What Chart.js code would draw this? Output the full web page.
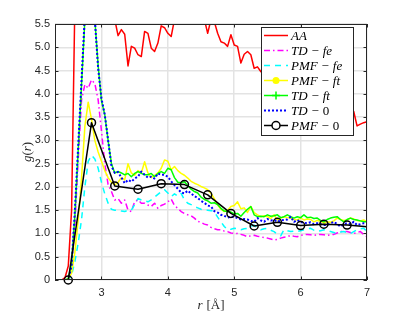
<!DOCTYPE html>
<html><head><meta charset="utf-8">
<script src="https://cdn.jsdelivr.net/npm/chart.js@4/dist/chart.umd.min.js"></script>
<style>html,body{margin:0;padding:0;background:#fff;}canvas{display:block;}</style>
</head><body>
<canvas id="c" width="407" height="318"></canvas>
<script>
// ---- data ----
const r = [2.30,2.35,2.40,2.45,2.50,2.55,2.60,2.65,2.70,2.75,
           2.80,2.85,2.90,2.95,3.00,3.05,3.10,3.15,3.20,3.25,
           3.30,3.35,3.40,3.45,3.50,3.55,3.60,3.65,3.70,3.75,
           3.80,3.85,3.90,3.95,4.00,4.05,4.10,4.15,4.20,4.25,
           4.30,4.35,4.40,4.45,4.50,4.55,4.60,4.65,4.70,4.75,
           4.80,4.85,4.90,4.95,5.00,5.05,5.10,5.15,5.20,5.25,
           5.30,5.35,5.40,5.45,5.50,5.55,5.60,5.65,5.70,5.75,
           5.80,5.85,5.90,5.95,6.00,6.05,6.10,6.15,6.20,6.25,
           6.30,6.35,6.40,6.45,6.50,6.55,6.60,6.65,6.70,6.75,
           6.80,6.85,6.90,6.95,7.00];
const AA = [0,0,0,0.05,0.3,1.5,6.0,9.5,11,10.5,
            9.5,8.5,7.8,7.2,6.7,6.3,6.0,5.8,5.6,5.25,
            5.38,5.28,4.6,5.02,4.98,4.84,4.8,5.34,5.3,4.98,
            4.91,5.09,5.46,5.42,5.3,5.23,5.6,5.55,5.7,5.65,
            5.8,5.75,5.7,5.6,5.65,5.6,5.3,5.6,5.55,5.3,
            5.12,5.09,5.02,5.27,5.05,5.02,4.66,4.85,4.91,4.84,
            4.55,4.58,4.48,4.4,4.45,4.3,4.35,4.2,4.25,4.1,
            4.15,4.0,4.05,3.95,3.9,3.95,3.85,3.8,3.85,3.75,
            3.7,3.75,3.65,3.7,3.6,3.65,3.55,3.6,3.65,3.7,
            3.62,3.31,3.35,3.38,3.4];
const TD_fe = [0,0,0,0,0.02,0.3,1.2,2.6,3.87,4.2,
               4.12,4.3,4.22,3.87,3.2,2.5,2.05,1.9,1.72,1.75,
               1.65,1.72,1.5,1.47,1.68,1.72,1.65,1.65,1.61,1.58,
               1.65,1.54,1.6,1.63,1.68,1.74,1.6,1.54,1.47,1.43,
               1.4,1.38,1.33,1.26,1.24,1.2,1.18,1.13,1.1,1.08,
               1.08,1.05,1.04,1.01,1.0,1.0,0.98,0.96,0.93,0.95,
               0.96,0.94,0.93,0.91,0.9,0.88,0.86,0.87,0.9,0.92,
               0.93,0.96,0.94,0.93,0.96,0.97,0.98,0.97,0.96,0.97,
               0.98,0.97,0.96,0.97,0.98,1.01,1.04,1.04,1.04,1.02,
               1.0,1.02,1.04,0.98,0.93];
const PMF_fe = [0,0,0,0,0,0.1,0.4,0.8,1.3,2.0,
                2.55,2.68,2.6,2.4,2.1,1.85,1.65,1.52,1.5,1.5,
                1.48,1.47,1.5,1.5,1.62,1.75,1.72,1.7,1.68,1.72,
                1.78,1.84,1.9,1.94,1.87,1.79,1.85,1.8,1.86,1.72,
                1.65,1.62,1.58,1.55,1.52,1.5,1.5,1.49,1.47,1.35,
                1.25,1.15,1.08,1.09,1.11,1.1,1.08,1.1,1.11,1.15,
                1.18,1.12,1.08,1.1,1.11,1.07,1.04,0.98,0.95,1.08,
                1.06,1.04,1.05,1.04,1.06,1.08,1.1,1.11,1.07,1.04,
                1.06,1.08,1.06,1.04,1.02,1.0,1.03,1.04,1.02,1.0,
                1.04,1.08,1.1,1.11,1.04];
const PMF_ft = [0,0,0,0,0.02,0.15,0.6,1.3,2.2,3.3,
                3.82,3.45,3.0,2.75,2.55,2.35,2.2,2.1,2.04,2.1,
                2.2,2.15,2.5,2.3,2.25,2.35,2.3,2.54,2.3,2.2,
                2.25,2.3,2.4,2.58,2.55,2.37,2.44,2.35,2.29,2.25,
                2.19,2.12,2.08,2.05,2.01,1.98,1.94,1.86,1.75,1.61,
                1.52,1.47,1.5,1.58,1.6,1.68,1.53,1.55,1.45,1.58,
                1.45,1.4,1.36,1.38,1.36,1.32,1.4,1.29,1.33,1.36,
                1.34,1.33,1.3,1.29,1.33,1.29,1.31,1.3,1.25,1.28,
                1.26,1.22,1.25,1.24,1.27,1.33,1.3,1.28,1.29,1.33,
                1.31,1.28,1.27,1.29,1.25];
const TD_ft = [0,0,0,0,0.03,0.35,1.4,2.8,4.2,5.6,
               6.6,6.6,5.6,4.6,3.85,3.55,3.0,2.5,2.3,2.33,
               2.3,2.26,2.29,2.22,2.29,2.33,2.29,2.26,2.26,2.29,
               2.22,2.29,2.33,2.29,2.4,2.37,2.2,2.1,2.09,2.11,
               2.03,1.95,1.9,1.87,1.78,1.73,1.7,1.65,1.66,1.62,
               1.54,1.48,1.47,1.46,1.42,1.43,1.37,1.45,1.52,1.58,
               1.4,1.36,1.37,1.36,1.4,1.37,1.38,1.4,1.34,1.36,
               1.4,1.36,1.33,1.36,1.34,1.4,1.34,1.35,1.32,1.33,
               1.28,1.25,1.3,1.33,1.35,1.36,1.3,1.25,1.3,1.33,
               1.3,1.29,1.27,1.25,1.25];
const TD_0 = [0,0,0,0,0,0.3,1.5,2.9,4.3,5.7,
              6.7,6.6,5.6,4.55,3.9,3.55,3.0,2.45,2.3,2.32,
              2.2,2.08,2.15,2.11,2.18,2.22,2.33,2.26,2.2,2.22,
              2.18,2.29,2.26,2.26,2.22,2.12,2.04,1.96,1.88,1.86,
              1.92,1.86,1.8,1.76,1.7,1.66,1.6,1.58,1.48,1.45,
              1.4,1.38,1.34,1.36,1.36,1.33,1.3,1.31,1.3,1.27,
              1.25,1.33,1.28,1.25,1.31,1.28,1.29,1.25,1.28,1.29,
              1.3,1.36,1.25,1.29,1.25,1.23,1.22,1.24,1.2,1.22,
              1.2,1.18,1.18,1.22,1.25,1.2,1.15,1.2,1.22,1.2,
              1.25,1.18,1.2,1.22,1.22];
const r0 = [2.5,2.85,3.2,3.55,3.9,4.25,4.6,4.95,5.3,5.65,6.0,6.35,6.7,7.05];
const PMF_0 = [0,3.38,2.02,1.95,2.07,2.05,1.83,1.43,1.16,1.24,1.17,1.2,1.18,1.14];

const seriesNames = ['AA','TD − fe','PMF − fe','PMF − ft','TD − ft','TD − 0','PMF − 0'];
const xTicks = [3,4,5,6,7];
const xMin = 2.3, xMax = 7, yMin = 0, yMax = 5.5, yStep = 0.5;

// ---- styles ----
const styles = [
  {color:'#ff0000', dash:[],          w:1.5},
  {color:'#ff00ff', dash:[6,3,1.5,3], w:1.5},
  {color:'#00ffff', dash:[6,5],       w:1.5},
  {color:'#ffff00', dash:[],          w:1.5, marker:'dot'},
  {color:'#00ff00', dash:[],          w:1.5, marker:'plus'},
  {color:'#0000ff', dash:[2,2],       w:2},
  {color:'#000000', dash:[],          w:1.5, marker:'circle'},
];

function pts(xs, ys){ return xs.map((x,i)=>({x:x, y:ys[i]})); }
const allY = [AA, TD_fe, PMF_fe, PMF_ft, TD_ft, TD_0];

const datasets = allY.map((ys,i)=>({
  label: seriesNames[i],
  data: pts(r, ys),
  borderColor: styles[i].color,
  backgroundColor: styles[i].color,
  borderWidth: styles[i].w,
  borderDash: styles[i].dash,
  pointRadius: 0,
  fill: false,
  order: 6 - i
}));
datasets.push({
  label: seriesNames[6],
  data: pts(r0, PMF_0),
  borderColor: '#000',
  borderWidth: 1.5,
  pointRadius: ctx => (ctx.parsed && ctx.parsed.x > xMax) ? 0 : 4,
  pointBorderWidth: 1.5,
  pointBorderColor: '#000',
  pointBackgroundColor: 'rgba(0,0,0,0)',
  fill: false,
  clip: {left: 6, top: 6, right: 0, bottom: 6},
  order: 0
});

const TXT = '#262626';
const serif = '"Liberation Serif","Times New Roman",serif';

function richWidth(ctx, text, size){
  let w = 0;
  for (const ch of text){
    if (ch === ' ') { w += size*0.3; continue; }
    ctx.font = (/[A-Za-z]/.test(ch) ? 'italic ' : '') + size + 'px ' + serif;
    w += ctx.measureText(ch).width;
  }
  return w;
}
function drawRich(ctx, text, x, y, size){
  ctx.textBaseline = 'alphabetic';
  ctx.textAlign = 'left';
  let cx = x;
  for (const ch of text){
    if (ch === ' ') { cx += size*0.3; continue; }
    ctx.font = (/[A-Za-z]/.test(ch) ? 'italic ' : '') + size + 'px ' + serif;
    ctx.fillText(ch, cx, y);
    cx += ctx.measureText(ch).width;
  }
}

const decor = {
  id:'decor',
  afterDatasetsDraw(chart){
    const ctx = chart.ctx, a = chart.chartArea;
    const xs = chart.scales.x, ys = chart.scales.y;
    ctx.save();
    // box
    ctx.strokeStyle = TXT; ctx.lineWidth = 1; ctx.setLineDash([]);
    ctx.strokeRect(Math.round(a.left)+0.5, Math.round(a.top)+0.5, Math.round(a.right-a.left)-1, Math.round(a.bottom-a.top)-1);
    // inward ticks
    ctx.beginPath();
    xTicks.forEach(v=>{
      const px = Math.round(xs.getPixelForValue(v))+0.5;
      ctx.moveTo(px, a.bottom); ctx.lineTo(px, a.bottom-3.5);
      ctx.moveTo(px, a.top); ctx.lineTo(px, a.top+3.5);
    });
    ys.ticks.forEach(t=>{
      const py = Math.round(ys.getPixelForValue(t.value))+0.5;
      ctx.moveTo(a.left, py); ctx.lineTo(a.left+3.5, py);
      ctx.moveTo(a.right, py); ctx.lineTo(a.right-3.5, py);
    });
    ctx.stroke();

    // legend
    const lx = 261, ly = 27, lw = 92, lh = 108;
    ctx.fillStyle = '#fff';
    ctx.fillRect(lx, ly, lw, lh);
    ctx.strokeStyle = TXT; ctx.lineWidth = 1;
    ctx.strokeRect(lx+0.5, ly+0.5, lw, lh);
    chart.data.datasets.forEach((ds,i)=>{
      const yc = 35 + i*15;
      const st = styles[i];
      ctx.strokeStyle = st.color; ctx.lineWidth = st.w;
      ctx.setLineDash(st.dash);
      ctx.beginPath(); ctx.moveTo(264, yc+0.5); ctx.lineTo(288, yc+0.5); ctx.stroke();
      ctx.setLineDash([]);
      if (st.marker === 'dot'){
        ctx.fillStyle = st.color; ctx.beginPath(); ctx.arc(276, yc+0.5, 3.5, 0, Math.PI*2); ctx.fill();
      } else if (st.marker === 'plus'){
        ctx.lineWidth = 1.5; ctx.beginPath();
        ctx.moveTo(272, yc+0.5); ctx.lineTo(280, yc+0.5);
        ctx.moveTo(276, yc-3.5); ctx.lineTo(276, yc+4.5); ctx.stroke();
      } else if (st.marker === 'circle'){
        ctx.lineWidth = 1.5; ctx.fillStyle = '#fff';
        ctx.beginPath(); ctx.arc(276, yc+0.5, 4, 0, Math.PI*2); ctx.fill(); ctx.stroke();
      }
      ctx.fillStyle = '#000';
      drawRich(ctx, ds.label, 291, yc+4.5, 13);
    });

    // axis titles
    ctx.fillStyle = TXT;
    const xt = 'r [Å]';
    const wx = richWidth(ctx, xt, 13);
    drawRich(ctx, xt, (a.left+a.right)/2 - wx/2, 309, 13);
    ctx.save();
    ctx.translate(31, (a.top+a.bottom)/2);
    ctx.rotate(-Math.PI/2);
    const yt = 'g(r)';
    const wy = richWidth(ctx, yt, 13);
    drawRich(ctx, yt, -wy/2, 0, 13);
    ctx.restore();
    ctx.restore();
  }
};

const tickFont = {family:'"Liberation Sans", Arial, sans-serif', size:11};
new Chart(document.getElementById('c'), {
  type:'line',
  data:{datasets: datasets},
  options:{
    responsive:false, animation:false, devicePixelRatio:1,
    layout:{padding:{left:0, top:24, right:40, bottom:0}},
    plugins:{legend:{display:false}, tooltip:{enabled:false}},
    elements:{line:{tension:0, borderCapStyle:'butt', borderJoinStyle:'round'}},
    scales:{
      x:{type:'linear', min:xMin, max:xMax,
         afterBuildTicks: s => { s.ticks = xTicks.map(v=>({value:v})); },
         afterFit: s => { s.height = 38; },
         grid:{color:'#e3e3e3', lineWidth:1.5, drawTicks:false},
         border:{display:false},
         ticks:{font:tickFont, color:TXT, padding:6, maxRotation:0, autoSkip:false}},
      y:{type:'linear', min:yMin, max:yMax,
         afterFit: s => { s.width = 55; },
         grid:{color:'#e3e3e3', lineWidth:1.5, drawTicks:false},
         border:{display:false},
         ticks:{stepSize:yStep, font:tickFont, color:TXT, padding:5, autoSkip:false}}
    }
  },
  plugins:[decor]
});
</script>
</body></html>
